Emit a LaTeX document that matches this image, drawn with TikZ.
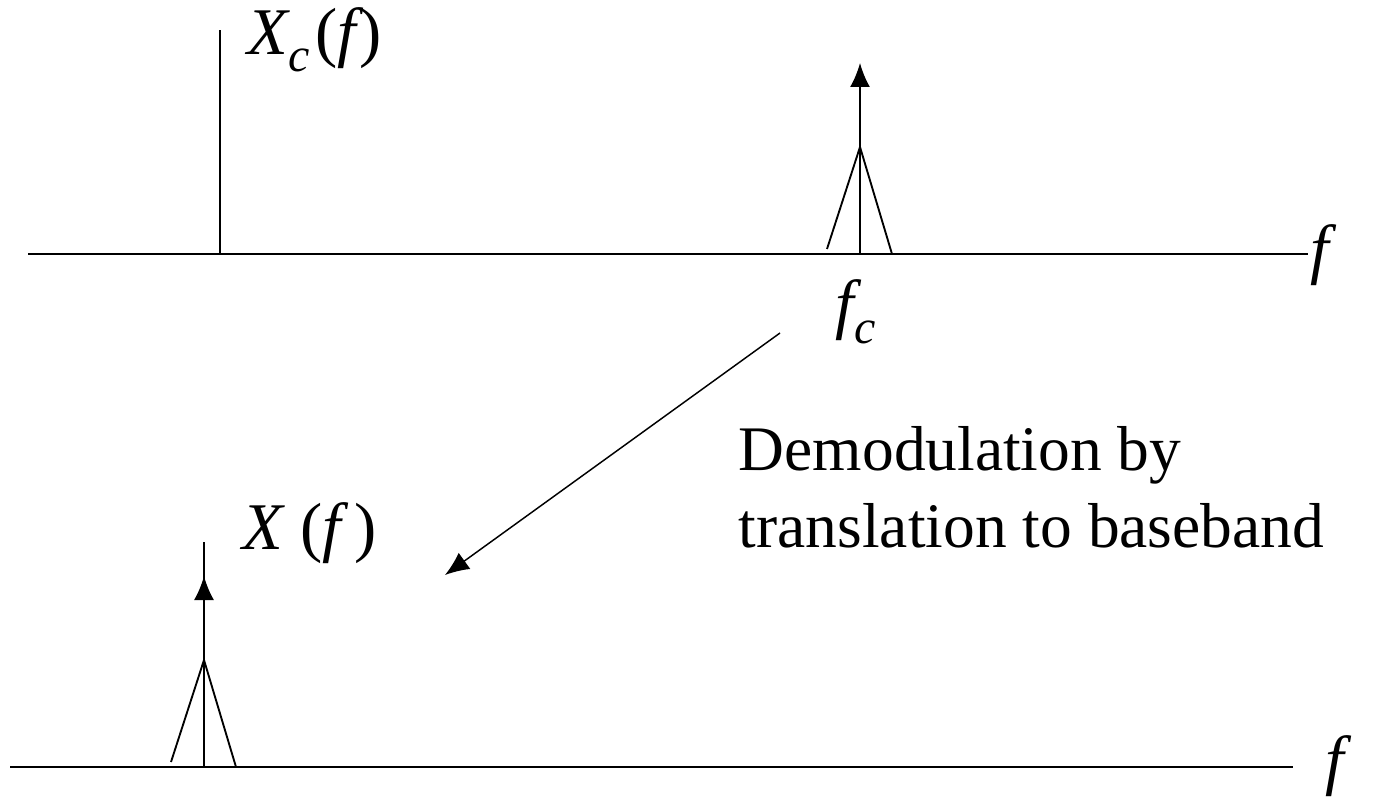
\documentclass[tikz,border=0pt]{standalone}
\usepackage{fontspec}
\setmainfont{LiberationSerif}[Extension=.ttf,UprightFont=*-Regular,
  ItalicFont=*-Italic,BoldFont=*-Bold,BoldItalicFont=*-BoldItalic]
\usetikzlibrary{arrows.meta}
\begin{document}
\begin{tikzpicture}[x=.75pt,y=-.75pt,line width=1.4pt,>={Latex[length=18pt,width=15pt]},
  font=\fontsize{47.6}{57.75}\selectfont]
  \def\spk#1#2{%
    \begin{scope}[shift={(#1,#2)}]
      \draw (-33,-5)--(0,-107)--(32,0);
      \draw[->] (0,0)--(0,-191);
    \end{scope}}
  \def\lsub#1{\raisebox{-.25em}{\fontsize{36}{36}\selectfont\itshape #1}}
  \tikzset{lbl/.style={anchor=base west,inner sep=0,font=\fontsize{50}{50}\selectfont}}
  \useasboundingbox (0,0) rectangle (1374,798);
  % upper spectrum
  \draw (28,254)--(1308,254);
  \draw (220,254)--(220,30);
  \spk{860}{254}
  \node[lbl] (xc) at (247,55)
    {\itshape X\lsub{c}\hspace{.08em}\upshape(\itshape f\hspace{.05em}\upshape)};
  \node[lbl] (fc) at (835,327) {\itshape f\lsub{c}};
  \node[lbl] (fu) at (1310,272) {\itshape f};
  % shift to baseband
  \coordinate (from) at (780,333);
  \coordinate (to) at (445,575);
  \draw[->,line width=1.1pt] (from)--(to);
  \node[anchor=base west,inner sep=0,align=left] (demod) at (738,547)
    {Demodulation by\\translation to baseband};
  % lower spectrum
  \draw (10,767)--(1293,767);
  \draw (204,767)--(204,542);
  \spk{204}{767}
  \node[lbl] (xb) at (242,549)
    {\itshape X\hspace{.25em}\upshape(\itshape f\hspace{.2em}\upshape)};
  \node[lbl] (fb) at (1325,782) {\itshape f};
\end{tikzpicture}
\end{document}
